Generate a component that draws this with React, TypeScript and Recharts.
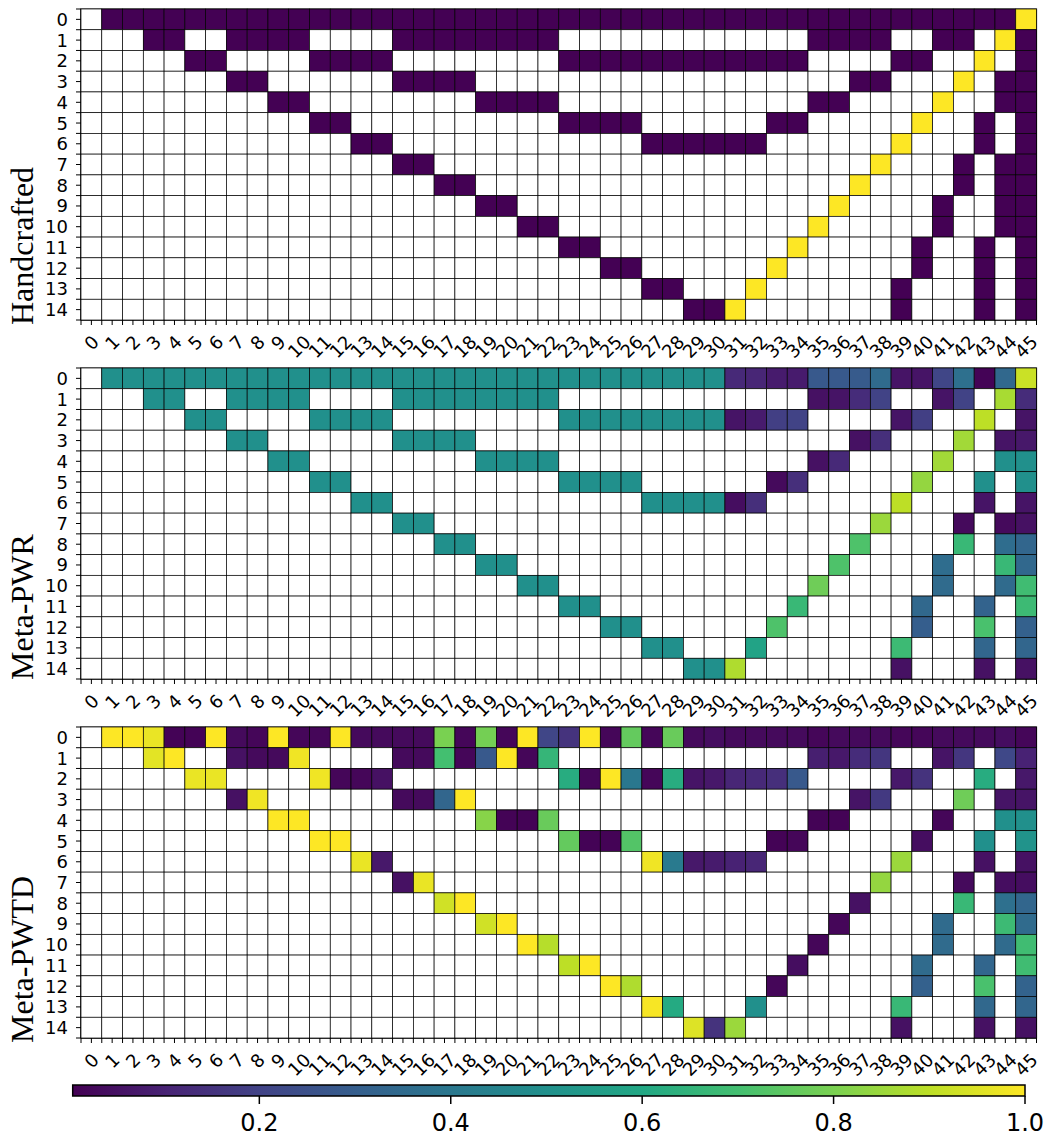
import React from "react"
import { ScatterChart, Scatter, XAxis, YAxis, ReferenceArea, Label } from "recharts"

const span = (a: number, b: number) => Array.from({ length: b - a + 1 }, (_, i) => a + i)

const N_COLS = 46
const N_ROWS = 15
const VMIN = 0.005

// columns that carry a value in each row (same layout in every panel)
const rowCols: number[][] = [
  span(1, 45),
  [3, 4, 7, 8, 9, 10, ...span(15, 22), 35, 36, 37, 38, 41, 42, 44, 45],
  [5, 6, 11, 12, 13, 14, ...span(23, 34), 39, 40, 43, 45],
  [7, 8, 15, 16, 17, 18, 37, 38, 42, 44, 45],
  [9, 10, 19, 20, 21, 22, 35, 36, 41, 44, 45],
  [11, 12, 23, 24, 25, 26, 33, 34, 40, 43, 45],
  [13, 14, 27, 28, 29, 30, 31, 32, 39, 43, 45],
  [15, 16, 38, 42, 44, 45],
  [17, 18, 37, 42, 44, 45],
  [19, 20, 36, 41, 44, 45],
  [21, 22, 35, 41, 44, 45],
  [23, 24, 34, 40, 43, 45],
  [25, 26, 33, 40, 43, 45],
  [27, 28, 32, 39, 43, 45],
  [29, 30, 31, 39, 43, 45],
]

const handcrafted: number[][] = [
  [0, 0, 0, 0, 0, 0, 0, 0, 0, 0, 0, 0, 0, 0, 0, 0, 0, 0, 0, 0, 0, 0, 0, 0, 0, 0, 0, 0, 0, 0, 0, 0, 0, 0, 0, 0, 0, 0, 0, 0, 0, 0, 0, 0, 1],
  [0, 0, 0, 0, 0, 0, 0, 0, 0, 0, 0, 0, 0, 0, 0, 0, 0, 0, 0, 0, 1, 0],
  [0, 0, 0, 0, 0, 0, 0, 0, 0, 0, 0, 0, 0, 0, 0, 0, 0, 0, 0, 0, 1, 0],
  [0, 0, 0, 0, 0, 0, 0, 0, 1, 0, 0],
  [0, 0, 0, 0, 0, 0, 0, 0, 1, 0, 0],
  [0, 0, 0, 0, 0, 0, 0, 0, 1, 0, 0],
  [0, 0, 0, 0, 0, 0, 0, 0, 1, 0, 0],
  [0, 0, 1, 0, 0, 0],
  [0, 0, 1, 0, 0, 0],
  [0, 0, 1, 0, 0, 0],
  [0, 0, 1, 0, 0, 0],
  [0, 0, 1, 0, 0, 0],
  [0, 0, 1, 0, 0, 0],
  [0, 0, 1, 0, 0, 0],
  [0, 0, 1, 0, 0, 0],
]

const metaPwr: number[][] = [
  [0.5, 0.5, 0.5, 0.5, 0.5, 0.5, 0.5, 0.5, 0.5, 0.5, 0.5, 0.5, 0.5, 0.5, 0.5, 0.5, 0.5, 0.5, 0.5, 0.5, 0.5, 0.5, 0.5, 0.5, 0.5, 0.5, 0.5, 0.5, 0.5, 0.5,
    0.12, 0.11, 0.08, 0.08, 0.28, 0.28, 0.29, 0.35, 0.06, 0.06, 0.21, 0.37, 0.01, 0.34, 0.92],
  [0.5, 0.5, 0.5, 0.5, 0.5, 0.5, 0.5, 0.5, 0.5, 0.5, 0.5, 0.5, 0.5, 0.5, 0.05, 0.06, 0.13, 0.2, 0.06, 0.2, 0.87, 0.13],
  [0.5, 0.5, 0.5, 0.5, 0.5, 0.5, 0.5, 0.5, 0.5, 0.5, 0.5, 0.5, 0.5, 0.5, 0.06, 0.08, 0.19, 0.2, 0.06, 0.19, 0.9, 0.06],
  [0.5, 0.5, 0.5, 0.5, 0.5, 0.5, 0.05, 0.14, 0.86, 0.06, 0.07],
  [0.5, 0.5, 0.5, 0.5, 0.5, 0.5, 0.05, 0.12, 0.86, 0.5, 0.5],
  [0.5, 0.5, 0.5, 0.5, 0.5, 0.5, 0.03, 0.14, 0.84, 0.5, 0.5],
  [0.5, 0.5, 0.5, 0.5, 0.5, 0.5, 0.04, 0.14, 0.9, 0.06, 0.06],
  [0.5, 0.5, 0.85, 0.03, 0.03, 0.05],
  [0.5, 0.5, 0.72, 0.67, 0.36, 0.33],
  [0.5, 0.5, 0.72, 0.36, 0.67, 0.34],
  [0.5, 0.5, 0.78, 0.35, 0.35, 0.69],
  [0.5, 0.5, 0.67, 0.34, 0.32, 0.68],
  [0.5, 0.5, 0.72, 0.3, 0.71, 0.31],
  [0.5, 0.5, 0.58, 0.68, 0.33, 0.33],
  [0.5, 0.5, 0.88, 0.05, 0.05, 0.05],
]

const metaPwtd: number[][] = [
  [1.0, 1.0, 0.97, 0.01, 0.01, 1.0, 0.03, 0.02, 1.0, 0.02,
    0.02, 1.0, 0.03, 0.03, 0.03, 0.03, 0.8, 0.02, 0.79, 0.02,
    1.0, 0.21, 0.15, 1.0, 0.02, 0.76, 0.02, 0.77, 0.03, 0.04,
    0.03, 0.03, 0.03, 0.03, 0.02, 0.03, 0.03, 0.03, 0.02, 0.02,
    0.03, 0.03, 0.03, 0.04, 0.02],
  [0.96, 1.0, 0.05, 0.03, 0.03, 0.98, 0.03, 0.03, 0.7, 0.02, 0.28, 1.0, 0.02, 0.66, 0.09, 0.07, 0.13, 0.16, 0.06, 0.16, 0.22, 0.1],
  [0.97, 0.97, 0.98, 0.02, 0.02, 0.05, 0.62, 0.02, 1.0, 0.4, 0.02, 0.62, 0.06, 0.07, 0.11, 0.12, 0.14, 0.28, 0.07, 0.15, 0.62, 0.07],
  [0.05, 0.98, 0.03, 0.03, 0.33, 1.0, 0.06, 0.17, 0.78, 0.06, 0.06],
  [1.0, 1.0, 0.82, 0.01, 0.01, 0.77, 0.01, 0.01, 0.02, 0.5, 0.5],
  [1.0, 1.0, 0.76, 0.01, 0.01, 0.73, 0.01, 0.02, 0.04, 0.5, 0.51],
  [0.97, 0.07, 0.98, 0.41, 0.07, 0.08, 0.1, 0.11, 0.85, 0.05, 0.05],
  [0.05, 0.97, 0.84, 0.03, 0.04, 0.04],
  [0.93, 1.0, 0.05, 0.67, 0.37, 0.33],
  [0.93, 1.0, 0.02, 0.35, 0.68, 0.35],
  [1.0, 0.89, 0.02, 0.35, 0.35, 0.69],
  [0.9, 1.0, 0.04, 0.35, 0.33, 0.69],
  [1.0, 0.88, 0.02, 0.31, 0.71, 0.32],
  [0.99, 0.61, 0.5, 0.67, 0.34, 0.33],
  [0.95, 0.15, 0.85, 0.05, 0.05, 0.05],
]

const colorbarTicks = [0.2, 0.4, 0.6, 0.8, 1.0]

const VIRIDIS = ["#440154", "#482475", "#414487", "#355f8d", "#2a788e", "#21918c", "#22a884", "#44bf70", "#7ad151", "#bddf26", "#fde725"]

const xTicks = span(-1, 2 * N_COLS - 1).map((i) => i / 2)
const yTicks = span(-1, 2 * N_ROWS - 1).map((i) => i / 2)

const CHART_W = 1050
const CHART_H = 368
const MARGIN = { top: 5, right: 13.5, bottom: 0, left: 0 }
const Y_AXIS_W = 81
const X_AXIS_H = 52
const CELL_W = (CHART_W - MARGIN.right - Y_AXIS_W) / N_COLS
const CELL_H = (CHART_H - MARGIN.top - X_AXIS_H) / N_ROWS
const TICK_FONT = "'DejaVu Sans', sans-serif"

const panels = [
  { name: "Handcrafted", values: handcrafted, top: 4.3, titleY: 321 },
  { name: "Meta-PWR", values: metaPwr, top: 363.3, titleY: 317 },
  { name: "Meta-PWTD", values: metaPwtd, top: 722.3, titleY: 321 },
]

function hexToRgb(h: string) {
  return [1, 3, 5].map((i) => parseInt(h.slice(i, i + 2), 16))
}

function viridis(v: number) {
  const t = Math.min(1, Math.max(0, (v - VMIN) / (1 - VMIN))) * 10
  const i = Math.min(9, Math.floor(t))
  const f = t - i
  const a = hexToRgb(VIRIDIS[i])
  const b = hexToRgb(VIRIDIS[i + 1])
  const c = a.map((x, k) => Math.round(x + (b[k] - x) * f))
  return `rgb(${c[0]},${c[1]},${c[2]})`
}

function buildCells(values: number[][]) {
  const cells: { x: number; y: number; v: number | null }[] = []
  for (let r = 0; r < N_ROWS; r++) {
    for (let c = 0; c < N_COLS; c++) {
      const k = rowCols[r].indexOf(c)
      cells.push({ x: c, y: r, v: k >= 0 ? values[r][k] : null })
    }
  }
  return cells
}

function HeatCell(props: any) {
  const { cx, cy, payload } = props
  const v = payload.v
  return (
    <rect
      x={cx - CELL_W / 2}
      y={cy - CELL_H / 2}
      width={CELL_W}
      height={CELL_H}
      fill={v == null ? "#ffffff" : viridis(v)}
      stroke="#000"
      strokeWidth={0.7}
    />
  )
}

function XTick({ x, y, payload }: any) {
  const v = payload.value
  if (!Number.isInteger(v)) return <g />
  const s = String(v)
  const w = s.length * 0.636 * 18
  // rotated label: its box top sits ~11px under the axis, centred on the tick
  const cy = y - 5 + 11 + (w + 21) * 0.354
  return (
    <text
      x={x}
      y={cy}
      transform={`rotate(-45 ${x} ${cy})`}
      textAnchor="middle"
      dominantBaseline="central"
      fontSize={18}
      fontFamily={TICK_FONT}
      fill="#000"
    >
      {s}
    </text>
  )
}

function YTick({ x, y, payload }: any) {
  const v = payload.value
  if (!Number.isInteger(v)) return <g />
  return (
    <text x={x} y={y} textAnchor="end" dominantBaseline="central" fontSize={18} fontFamily={TICK_FONT} fill="#000">
      {v}
    </text>
  )
}

function CbTick({ x, y, payload }: any) {
  return (
    <text x={x} y={y} dy="0.72em" textAnchor="middle" fontSize={24} fontFamily={TICK_FONT} fill="#000">
      {payload.value.toFixed(1)}
    </text>
  )
}

function Panel({ name, values, top, titleY }: { name: string; values: number[][]; top: number; titleY: number }) {
  const cells = buildCells(values)
  return (
    <div style={{ position: "absolute", left: 0, top }}>
      <ScatterChart width={CHART_W} height={CHART_H} margin={MARGIN}>
        <XAxis
          type="number"
          dataKey="x"
          domain={[-0.5, N_COLS - 0.5]}
          ticks={xTicks}
          interval={0}
          height={X_AXIS_H}
          tickSize={5}
          tickMargin={0}
          tick={<XTick />}
          axisLine={{ stroke: "#000" }}
          tickLine={{ stroke: "#000" }}
        />
        <YAxis
          type="number"
          dataKey="y"
          reversed
          domain={[-0.5, N_ROWS - 0.5]}
          ticks={yTicks}
          interval={0}
          width={Y_AXIS_W}
          tickSize={5}
          tickMargin={8}
          tick={<YTick />}
          axisLine={{ stroke: "#000" }}
          tickLine={{ stroke: "#000" }}
        >
          <Label
            content={() => (
              <text
                x={33}
                y={titleY}
                transform={`rotate(-90 33 ${titleY})`}
                textAnchor="start"
                fontSize={32}
                fontFamily="'Liberation Serif', 'Times New Roman', serif"
                fill="#000"
              >
                {name}
              </text>
            )}
          />
        </YAxis>
        <Scatter data={cells} shape={HeatCell} isAnimationActive={false} />
        <ReferenceArea
          x1={-0.5}
          x2={N_COLS - 0.5}
          y1={-0.5}
          y2={N_ROWS - 0.5}
          fill="none"
          stroke="#000"
          strokeWidth={1.2}
        />
      </ScatterChart>
    </div>
  )
}

function Colorbar() {
  return (
    <div style={{ position: "absolute", left: 0, top: 1080 }}>
      <ScatterChart width={CHART_W} height={61} margin={{ top: 5, right: 25, bottom: 0, left: 72.7 }}>
        <defs>
          <linearGradient id="cbGrad" x1="0" y1="0" x2="1" y2="0">
            {VIRIDIS.map((c, i) => (
              <stop key={c} offset={`${i * 10}%`} stopColor={c} />
            ))}
          </linearGradient>
        </defs>
        <XAxis
          type="number"
          dataKey="v"
          domain={[VMIN, 1]}
          ticks={colorbarTicks}
          interval={0}
          height={45}
          tickSize={8}
          tickMargin={10}
          tick={<CbTick />}
          axisLine={false}
          tickLine={{ stroke: "#000", strokeWidth: 1.5 }}
        />
        <YAxis type="number" dataKey="y" domain={[0, 1]} hide />
        <Scatter data={[{ v: VMIN, y: 0.5 }]} shape={() => <g />} isAnimationActive={false} />
        <ReferenceArea x1={VMIN} x2={1} y1={0} y2={1} fill="url(#cbGrad)" fillOpacity={1} stroke="#000" strokeWidth={1.5} />
      </ScatterChart>
    </div>
  )
}

export default function App() {
  return (
    <div style={{ position: "absolute", left: 0, top: 0, width: 1050, height: 1141, background: "#fff", overflow: "hidden" }}>
      {panels.map((p) => (
        <Panel key={p.name} {...p} />
      ))}
      <Colorbar />
    </div>
  )
}
